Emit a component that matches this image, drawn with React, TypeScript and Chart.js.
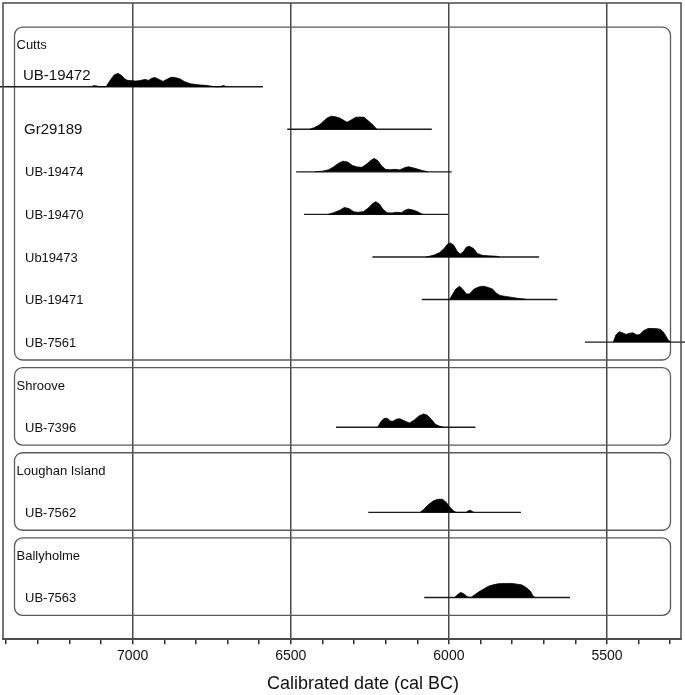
import React, { useEffect, useRef } from 'react';
import { Chart, registerables } from 'chart.js';

Chart.register(...registerables);

// ---- data ----
const sampleNames = ['UB-19472', 'Gr29189', 'UB-19474', 'UB-19470', 'Ub19473', 'UB-19471', 'UB-7561', 'UB-7396', 'UB-7562', 'UB-7563'];
const sampleRows = [0, 1, 2, 3, 4, 5, 6, 8, 10, 12];
const rangeFrom = [7420, 6511, 6483, 6458, 6242, 6086, 5570, 6357, 6255, 6078];
const rangeTo = [6588, 6054, 5991, 6003, 5715, 5657, 5250, 5916, 5772, 5617];

const groupNames = ['Cutts', 'Shroove', 'Loughan Island', 'Ballyholme'];
const groupHeaderRows = [-1, 7, 9, 11];
const groupLastRows = [6, 8, 10, 12];

const xMajorStep = 500;
const xMinorStep = 100;
const xAxisTitle = 'Calibrated date (cal BC)';

// probability distributions: [cal BC year, relative probability]
const densUB19472 = [[7128, 0], [7126, 0.07], [7114, 0.07], [7112, 0], [7085, 0], [7081, 0.1], [7070, 0.5], [7058, 0.85], [7046, 0.95], [7035, 0.8], [7025, 0.55], [7017, 0.46], [7000, 0.42], [6990, 0.4], [6976, 0.44], [6965, 0.5], [6960, 0.52], [6950, 0.45], [6940, 0.6], [6929, 0.65], [6915, 0.5], [6904, 0.38], [6890, 0.55], [6880, 0.66], [6872, 0.67], [6860, 0.62], [6850, 0.55], [6835, 0.35], [6818, 0.22], [6800, 0.15], [6785, 0.12], [6770, 0.1], [6755, 0.05], [6745, 0.02], [6740, 0], [6720, 0], [6718, 0.07], [6710, 0.07], [6708, 0]];
const densGr29189 = [[6440, 0], [6425, 0.12], [6410, 0.3], [6395, 0.6], [6385, 0.8], [6372, 0.93], [6360, 0.9], [6345, 0.8], [6330, 0.6], [6322, 0.5], [6310, 0.65], [6295, 0.85], [6281, 0.87], [6268, 0.85], [6255, 0.6], [6240, 0.3], [6228, 0]];
const densUB19474 = [[6423, 0], [6400, 0.05], [6380, 0.15], [6365, 0.35], [6350, 0.6], [6335, 0.76], [6320, 0.7], [6305, 0.45], [6290, 0.35], [6275, 0.32], [6260, 0.55], [6245, 0.85], [6236, 0.95], [6225, 0.8], [6212, 0.4], [6200, 0.18], [6185, 0.15], [6170, 0.18], [6155, 0.14], [6140, 0.3], [6128, 0.36], [6115, 0.3], [6100, 0.2], [6085, 0.1], [6066, 0]];
const densUB19470 = [[6382, 0], [6365, 0.12], [6345, 0.3], [6330, 0.5], [6315, 0.4], [6300, 0.18], [6285, 0.15], [6270, 0.2], [6255, 0.45], [6240, 0.8], [6231, 0.9], [6220, 0.75], [6208, 0.35], [6195, 0.12], [6180, 0.1], [6165, 0.15], [6150, 0.12], [6138, 0.3], [6128, 0.38], [6115, 0.32], [6100, 0.2], [6090, 0.08], [6082, 0]];
const densUb19473 = [[6073, 0], [6060, 0.06], [6045, 0.15], [6030, 0.3], [6015, 0.6], [6005, 0.9], [5996, 1.0], [5985, 0.85], [5975, 0.45], [5965, 0.2], [5955, 0.35], [5945, 0.7], [5935, 0.76], [5922, 0.6], [5910, 0.25], [5895, 0.12], [5875, 0.08], [5850, 0.05], [5840, 0]];
const densUB19471 = [[5998, 0], [5990, 0.3], [5978, 0.75], [5966, 0.95], [5955, 0.7], [5945, 0.4], [5935, 0.4], [5920, 0.75], [5905, 0.9], [5890, 0.95], [5875, 0.85], [5862, 0.75], [5850, 0.45], [5838, 0.28], [5820, 0.22], [5800, 0.15], [5780, 0.08], [5760, 0.03], [5754, 0]];
const densUB7561 = [[5480, 0], [5472, 0.5], [5462, 0.74], [5450, 0.65], [5440, 0.55], [5430, 0.62], [5418, 0.66], [5405, 0.5], [5396, 0.55], [5385, 0.8], [5370, 0.97], [5355, 0.97], [5340, 0.95], [5330, 0.9], [5318, 0.6], [5308, 0.2], [5300, 0]];
const densUB7396 = [[6225, 0], [6215, 0.4], [6205, 0.62], [6195, 0.64], [6185, 0.45], [6177, 0.42], [6165, 0.58], [6155, 0.6], [6140, 0.45], [6125, 0.3], [6110, 0.5], [6095, 0.8], [6080, 0.95], [6068, 0.85], [6055, 0.55], [6042, 0.2], [6030, 0.08], [6017, 0]];
const densUB7562 = [[6091, 0], [6080, 0.2], [6065, 0.55], [6050, 0.8], [6035, 0.93], [6020, 0.93], [6008, 0.7], [5998, 0.4], [5985, 0.1], [5977, 0], [5945, 0], [5940, 0.1], [5932, 0.15], [5925, 0.05], [5920, 0]];
const densUB7563 = [[5982, 0], [5970, 0.25], [5962, 0.36], [5952, 0.25], [5942, 0.05], [5930, 0], [5918, 0.2], [5905, 0.4], [5890, 0.6], [5875, 0.8], [5860, 0.9], [5845, 0.97], [5825, 1.0], [5800, 1.0], [5785, 0.95], [5770, 0.9], [5755, 0.7], [5742, 0.45], [5735, 0.15], [5728, 0]];

const densities = [densUB19472, densGr29189, densUB19474, densUB19470, densUb19473, densUB19471, densUB7561, densUB7396, densUB7562, densUB7563];

// ---- styling ----
const FONT = '"Liberation Sans", Arial, Helvetica, sans-serif';
const PEAK = 0.33; // peak height in row units
const labelFontSize = [15, 15, 13, 13, 13, 13, 13, 13, 13, 13];
const labelDx = [20, 21, 22, 22, 22, 22, 22, 22, 22, 22];
const labelDy = [-11, 1, 1, 1, 1, 1, 1, 1, 1, 1];

const decorPlugin = {
  id: 'oxcalDecor',
  beforeDatasetsDraw(chart: any) {
    const { ctx, chartArea: a, scales } = chart;
    const y = scales.y;
    ctx.save();
    ctx.strokeStyle = '#5a5a5a';
    ctx.lineWidth = 1.3;
    groupNames.forEach((_, i) => {
      const top = y.getPixelForValue(groupHeaderRows[i] - 0.4);
      const bottom = y.getPixelForValue(groupLastRows[i] + 0.42);
      const left = a.left + 11.5;
      const right = a.right - 10.5;
      ctx.beginPath();
      ctx.roundRect(left, top, right - left, bottom - top, 8);
      ctx.stroke();
    });
    ctx.restore();
  },
  afterDraw(chart: any) {
    const { ctx, chartArea: a, scales } = chart;
    const y = scales.y;
    ctx.save();
    // frame
    ctx.strokeStyle = '#4a4a4a';
    ctx.lineWidth = 1.5;
    ctx.strokeRect(a.left, a.top, a.right - a.left, a.bottom - a.top);
    ctx.fillStyle = '#111';
    ctx.textBaseline = 'middle';
    ctx.textAlign = 'left';
    groupNames.forEach((g, i) => {
      ctx.font = `13px ${FONT}`;
      ctx.fillText(g, a.left + 13.5, y.getPixelForValue(groupHeaderRows[i]) + 1.5);
    });
    sampleNames.forEach((s, i) => {
      ctx.font = `${labelFontSize[i]}px ${FONT}`;
      ctx.fillText(s, a.left + labelDx[i], y.getPixelForValue(sampleRows[i]) + labelDy[i]);
    });
    // axis title (offset right of centre as in the original)
    ctx.textAlign = 'center';
    ctx.font = `18px ${FONT}`;
    ctx.fillText(xAxisTitle, a.left + 360, a.bottom + 45);
    ctx.restore();
  },
};

export default function App() {
  const ref = useRef<HTMLCanvasElement>(null);
  useEffect(() => {
    if (!ref.current) return;
    Chart.defaults.font.family = FONT;
    Chart.defaults.color = '#111';
    const datasets: any[] = [];
    sampleNames.forEach((name, i) => {
      const row = sampleRows[i];
      datasets.push({
        label: name,
        data: densities[i].map(([x, p]) => ({ x, y: row - p * PEAK })),
        borderColor: '#000',
        borderWidth: 0.8,
        backgroundColor: '#000',
        pointRadius: 0,
        tension: 0,
        fill: { value: row },
        clip: false,
      });
      datasets.push({
        label: name + ' range',
        data: [{ x: rangeFrom[i], y: row }, { x: rangeTo[i], y: row }],
        borderColor: '#1c1c1c',
        borderWidth: 1.4,
        pointRadius: 0,
        fill: false,
        clip: false,
      });
    });
    const chart = new Chart(ref.current, {
      type: 'line',
      data: { datasets },
      options: {
        animation: false,
        responsive: false,
        maintainAspectRatio: false,
        layout: { padding: { left: 3, right: 4, top: 3, bottom: 26 } },
        plugins: { legend: { display: false }, tooltip: { enabled: false } },
        scales: {
          x: {
            type: 'linear',
            reverse: true,
            min: 5266,
            max: 7410,
            border: { display: true, color: '#4a4a4a', width: 1.5 },
            grid: {
              color: (c: any) => (c.tick && c.tick.value % xMajorStep === 0 ? '#4a4a4a' : 'rgba(0,0,0,0)'),
              tickColor: '#333',
              lineWidth: 1.5,
              tickLength: 5,
              drawTicks: true,
            },
            ticks: {
              stepSize: xMinorStep,
              autoSkip: false,
              includeBounds: false,
              maxRotation: 0,
              padding: 4,
              color: '#111',
              font: { size: 14, family: FONT },
              callback: (v: any) => (Number(v) % xMajorStep === 0 ? String(v) : ''),
            },
            title: { display: false },
          },
          y: {
            type: 'linear',
            display: false,
            reverse: true,
            min: -1.967,
            max: 12.98,
          },
        },
      },
      plugins: [decorPlugin],
    });
    return () => chart.destroy();
  }, []);
  return (
    <div style={{ position: 'fixed', left: 0, top: 0, width: 685, height: 695 }}>
      <canvas ref={ref} width={685} height={695} style={{ display: 'block', width: 685, height: 695 }} />
    </div>
  );
}
